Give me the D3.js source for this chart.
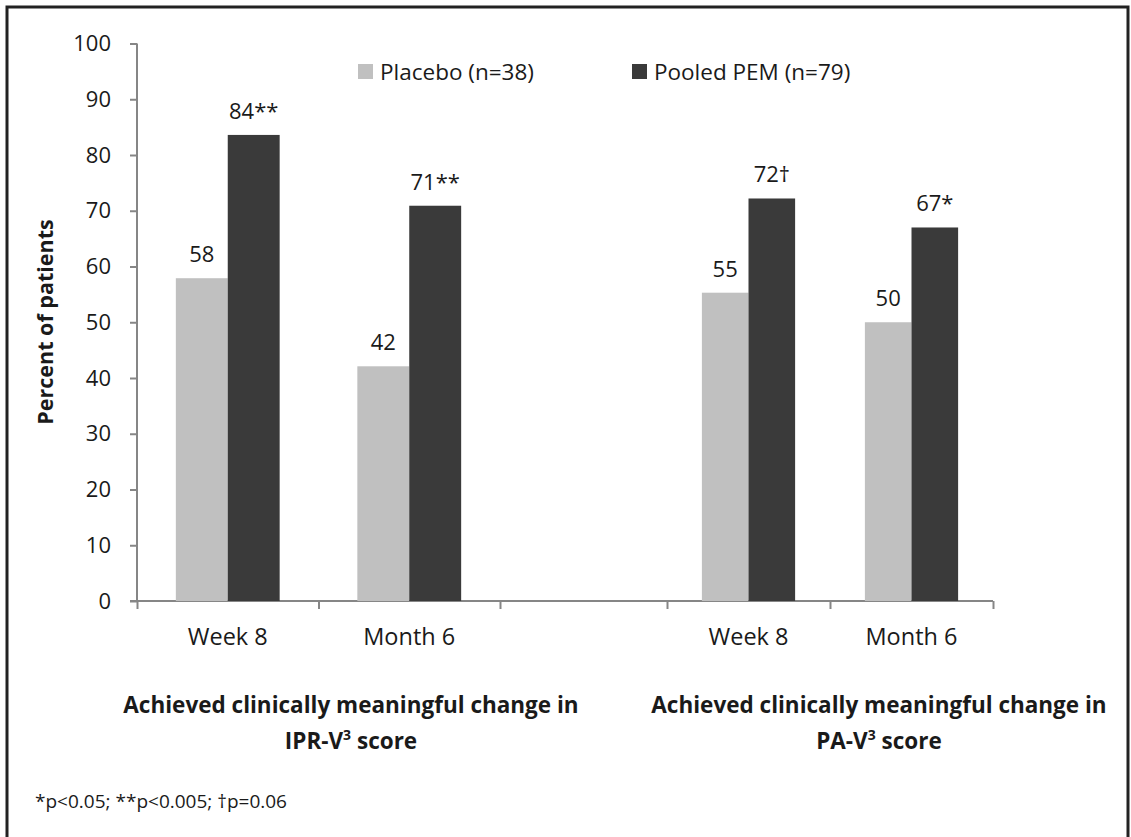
<!DOCTYPE html>
<html>

<head>
    <title>Clinically meaningful change</title>
    <script src="https://d3js.org/d3.v7.min.js"></script>
    <style>
        body { margin: 0; background: #fff; }
        text { font-family: "Open Sans", Lato, sans-serif; fill: #1a1a1a; }
    </style>
</head>

<body>
    <svg id="chart"></svg>

    <script>
        // data
        const categories = ['Week 8', 'Month 6', 'Week 8', 'Month 6'];
        const slots = [0, 1, 3, 4];               // slot 2 is the empty gap between panels
        const placebo = [57.9, 42.1, 55.3, 50.0];
        const pem = [83.6, 70.9, 72.2, 67.0];
        const placeboLabels = ['58', '42', '55', '50'];
        const pemLabels = ['84**', '71**', '72\u2020', '67*'];
        const seriesNames = ['Placebo (n=38)', 'Pooled PEM (n=79)'];
        const yTicks = [0, 10, 20, 30, 40, 50, 60, 70, 80, 90, 100];

        const width = 1131;
        const height = 837;
        const colors = ['#c0c0c0', '#3a3a3a'];

        const svg = d3.select('#chart')
            .attr('width', width)
            .attr('height', height);

        // outer frame (bottom edge runs off the picture)
        svg.append('path')
            .attr('d', `M7,${height + 5} L7,7 L1128,7 L1128,${height + 5}`)
            .attr('fill', 'none')
            .attr('stroke', '#222')
            .attr('stroke-width', 3);

        // slot boundaries -> pixel; the right panel is a bit narrower in the original
        const x = d3.scaleLinear()
            .domain([0, 2, 3, 5])
            .range([137, 500, 667, 993]);

        const y = d3.scaleLinear()
            .domain([0, 100])
            .range([601, 43.5]);

        // y axis
        const yAxis = svg.append('g')
            .attr('transform', `translate(${x(0)},0)`)
            .call(d3.axisLeft(y).tickValues(yTicks).tickSize(7).tickPadding(19));
        yAxis.select('.domain').attr('stroke', '#868686').attr('stroke-width', 2)
            .attr('d', `M0,${y(100)}V${y(0)}`);
        yAxis.selectAll('.tick line').attr('stroke', '#868686').attr('stroke-width', 2);
        yAxis.selectAll('.tick text')
            .style('font-size', '22px')
            .style('font-family', '"Open Sans", sans-serif')
            .attr('fill', '#1a1a1a');

        // x axis baseline and ticks at slot boundaries
        const xAxis = svg.append('g')
            .attr('transform', `translate(0,${y(0)})`)
            .call(d3.axisBottom(x).tickValues([0, 1, 2, 3, 4, 5]).tickSize(8).tickFormat(''));
        xAxis.select('.domain').attr('stroke', '#868686').attr('stroke-width', 2)
            .attr('d', `M${x(0) - 7},0H${x(5)}`);
        xAxis.selectAll('.tick line').attr('stroke', '#868686').attr('stroke-width', 2);

        // category labels
        svg.selectAll('.cat')
            .data(categories)
            .enter()
            .append('text')
            .attr('class', 'cat')
            .attr('x', (d, i) => x(slots[i] + 0.5))
            .attr('y', 645)
            .attr('text-anchor', 'middle')
            .style('font-size', '23.5px')
            .text(d => d);

        // bars
        const barFrac = 0.286;
        function barW(i) {
            return barFrac * (x(slots[i] + 1) - x(slots[i]));
        }

        [placebo, pem].forEach((series, s) => {
            svg.selectAll('.bar' + s)
                .data(series)
                .enter()
                .append('rect')
                .attr('class', 'bar' + s)
                .attr('x', (d, i) => x(slots[i] + 0.5) - (s === 0 ? barW(i) : 0))
                .attr('width', (d, i) => barW(i))
                .attr('y', d => y(d))
                .attr('height', d => y(0) - y(d))
                .attr('fill', colors[s]);
        });

        // value labels
        [[placebo, placeboLabels], [pem, pemLabels]].forEach(([series, labels], s) => {
            svg.selectAll('.val' + s)
                .data(series)
                .enter()
                .append('text')
                .attr('class', 'val' + s)
                .attr('x', (d, i) => x(slots[i] + 0.5) + (s === 0 ? -barW(i) / 2 : barW(i) / 2))
                .attr('y', d => y(d) - 16)
                .attr('text-anchor', 'middle')
                .style('font-size', '22px')
                .text((d, i) => labels[i]);
        });

        // y axis title
        svg.append('text')
            .attr('transform', 'translate(53,322) rotate(-90)')
            .attr('text-anchor', 'middle')
            .style('font-size', '21.5px')
            .style('font-weight', 'bold')
            .text('Percent of patients');

        // legend
        const legendX = [358, 632];
        seriesNames.forEach((name, s) => {
            svg.append('rect')
                .attr('x', legendX[s])
                .attr('y', 64)
                .attr('width', 15)
                .attr('height', 15)
                .attr('fill', colors[s]);
            svg.append('text')
                .attr('x', legendX[s] + 22)
                .attr('y', 80)
                .style('font-size', '22.5px')
                .text(name);
        });

        // group titles under the axis
        const groupTitles = [
            { cx: 351, line2: 'IPR-V' },
            { cx: 879, line2: 'PA-V' }
        ];
        groupTitles.forEach(g => {
            svg.append('text')
                .attr('x', g.cx)
                .attr('y', 713)
                .attr('text-anchor', 'middle')
                .style('font-size', '22.5px')
                .style('font-weight', 'bold')
                .text('Achieved clinically meaningful change in');
            const t = svg.append('text')
                .attr('x', g.cx)
                .attr('y', 749)
                .attr('text-anchor', 'middle')
                .style('font-size', '22.5px')
                .style('font-weight', 'bold');
            t.append('tspan').text(g.line2);
            t.append('tspan').attr('dy', -9).style('font-size', '14px').text('3');
            t.append('tspan').attr('dy', 9).text(' score');
        });

        // footnote
        svg.append('text')
            .attr('x', 35)
            .attr('y', 808)
            .style('font-size', '19px')
            .text('*p<0.05; **p<0.005; \u2020p=0.06');
    </script>
</body>

</html>
